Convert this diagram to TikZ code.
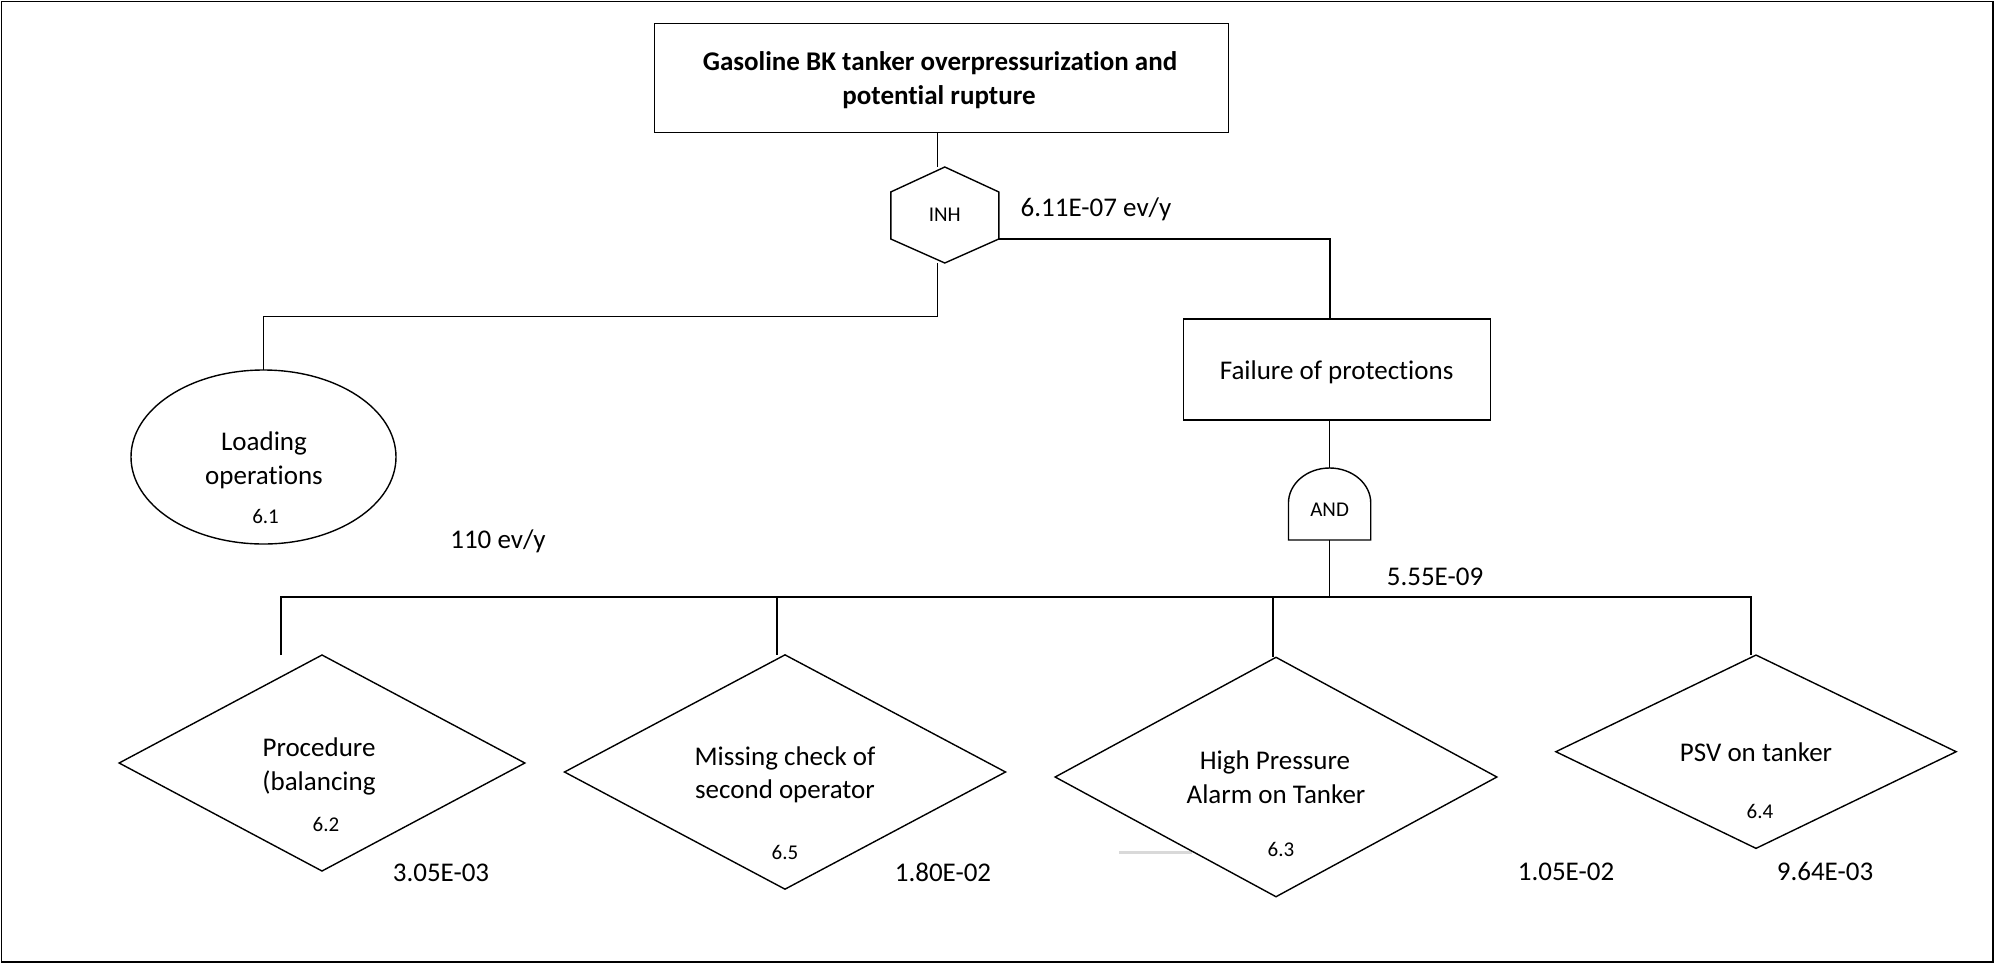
\documentclass[tikz,border=0pt]{standalone}
\usepackage{fontspec}
\setmainfont{Carlito}[Ligatures=NoCommon]
\usetikzlibrary{calc,shapes.geometric}
\begin{document}
\begin{tikzpicture}[x=0.5pt,y=-0.5pt,line width=0.7pt,
  every node/.style={inner sep=0pt,outer sep=0pt},
  txt/.style={font=\fontsize{13.5}{16}\selectfont,anchor=base},
  txtb/.style={font=\bfseries\fontsize{13.5}{16}\selectfont,anchor=base},
  small/.style={font=\fontsize{10.5}{12}\selectfont,anchor=base},
  boxn/.style={draw,rectangle},
  evt/.style={draw,ellipse},
  cond/.style={draw,diamond},
  ghost/.style={rectangle}]
\useasboundingbox (0,0) rectangle (1995,964);
\draw (1.5,1.5) rectangle (1993,962);

% top event
\node[boxn,minimum width=287pt,minimum height=54.5pt] (top) at (941.5,77.8) {};
\node[txtb] (t1) at (940,70) {Gasoline BK tanker overpressurization and};
\node[txtb] (t2) at (939,104) {potential rupture};

% INH gate
\node[ghost,minimum width=54pt,minimum height=48pt] (inh) at (944.8,215) {};
\draw (inh.north)
  -- ($(inh.north east)!0.26!(inh.south east)$) coordinate (inhr1)
  -- ($(inh.north east)!0.75!(inh.south east)$) coordinate (inhr2)
  -- (inh.south)
  -- ($(inh.north west)!0.75!(inh.south west)$)
  -- ($(inh.north west)!0.26!(inh.south west)$) -- cycle;
\node[small] (inhl) at (944.8,221.7) {INH};
\node[txt] (v1) at (1096,216.7) {6.11E-07 ev/y};

% loading operations
\node[evt,minimum width=132.5pt,minimum height=87pt] (load) at (263.5,457) {};
\node[txt] (l1) at (264,450) {Loading};
\node[txt] (l2) at (264,484) {operations};
\node[small] (l3) at (265.6,523.3) {6.1};
\node[txt] (v2) at (498,548.3) {110 ev/y};

% failure of protections
\node[boxn,minimum width=153.5pt,minimum height=50.5pt] (fail) at (1337,369.5) {};
\node[txt] (ft) at (1336.6,379) {Failure of protections};

% AND gate
\node[ghost,minimum width=41.15pt,minimum height=36pt] (and) at (1329.6,504) {};
\draw (and.south west) -- ++(0,-37)
  arc[start angle=180,end angle=360,x radius=41.15,y radius=35]
  -- (and.south east) -- cycle;
\node[small] (andl) at (1329.6,516.7) {AND};
\node[txt] (v3) at (1435,585) {5.55E-09};

% basic conditions
\draw[gray!30,line width=1.4pt] (1119,852.7) -- (1192,852.7);
\node[cond,minimum width=202.85pt,minimum height=108pt] (d1) at (322,763) {};
\node[cond,minimum width=220.5pt,minimum height=117.15pt] (d2) at (785,772) {};
\node[cond,minimum width=220.85pt,minimum height=119.7pt] (d3) at (1276,777) {};
\node[cond,minimum width=200.15pt,minimum height=96.65pt] (d4) at (1756,751.7) {};

\node[txt] (d1a) at (319,756.7) {Procedure};
\node[txt] (d1b) at (319,790) {(balancing};
\node[small] (d1c) at (326,831.7) {6.2};
\node[txt] (d2a) at (785,765) {Missing check of};
\node[txt] (d2b) at (785,798.3) {second operator};
\node[small] (d2c) at (785,859.3) {6.5};
\node[txt] (d3a) at (1275,769.3) {High Pressure};
\node[txt] (d3b) at (1276,803.3) {Alarm on Tanker};
\node[small] (d3c) at (1281,856.7) {6.3};
\node[txt] (d4a) at (1756,761.7) {PSV on tanker};
\node[small] (d4c) at (1760,818.3) {6.4};

\node[txt] (p1) at (441,881) {3.05E-03};
\node[txt] (p2) at (943,881) {1.80E-02};
\node[txt] (p3) at (1566,880) {1.05E-02};
\node[txt] (p4) at (1825,880) {9.64E-03};

% connectors
\coordinate (jl) at (937.3,316.7);
\draw (top.south -| jl) -- (inh.north -| jl);
\draw (inh.south -| jl) -- (jl) -| (load.north);
\draw (inhr2) -| ($(fail.north)+(-7,0)$);
\draw (and.north |- fail.south) -- (and.north);
\coordinate (bus) at (1329.6,597);
\coordinate (b1) at (281,597);
\coordinate (b2) at (777,597);
\coordinate (b3) at (1273,597);
\coordinate (b4) at (1751,597);
\draw (and.south) -- (bus);
\draw (b1 |- d1.north) -- (b1) -- (b4) -- (b4 |- d4.north);
\draw (b2) -- (b2 |- d2.north);
\draw (b3) -- (b3 |- d3.north);
\end{tikzpicture}
\end{document}
